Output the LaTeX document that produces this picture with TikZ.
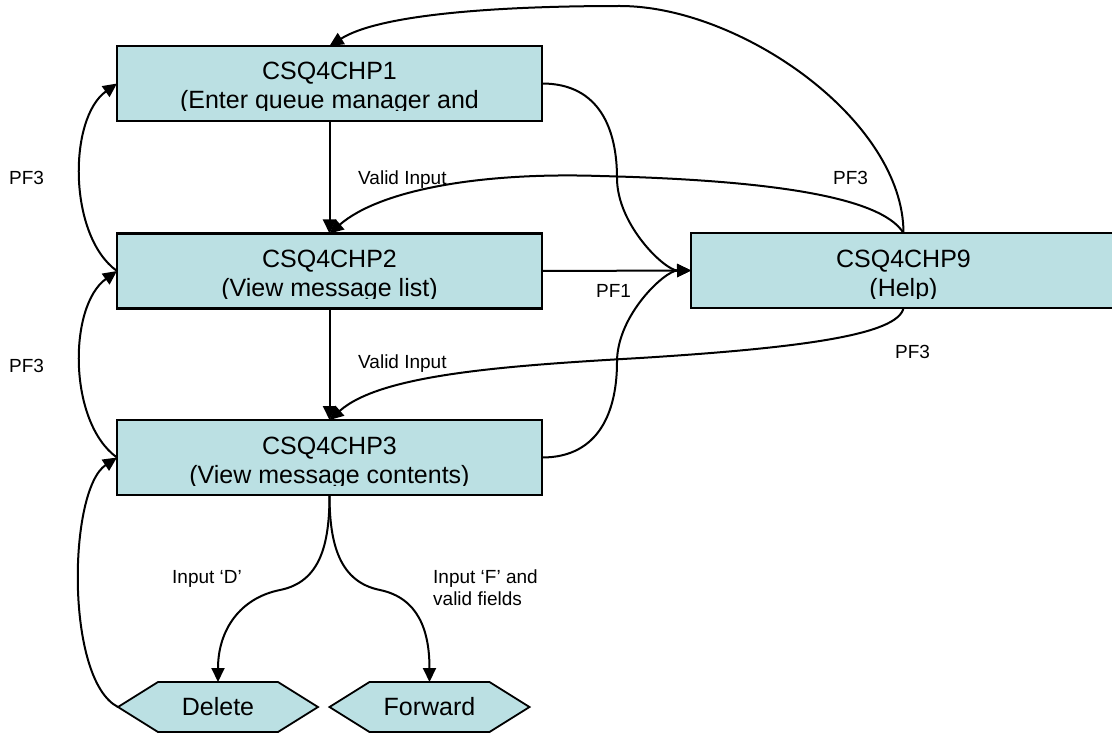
\documentclass[tikz,border=0pt]{standalone}
\usepackage{fontspec}
\setmainfont{Liberation Sans}
\usetikzlibrary{arrows.meta,backgrounds,calc}
\definecolor{boxfill}{RGB}{187,224,227}
\begin{document}
\begin{tikzpicture}[x=1pt,y=-1pt,
  box/.style={draw=black, line width=2.2pt, fill=boxfill, minimum width=425pt, minimum height=75pt, inner sep=0pt, outer sep=0pt},
  boxtext/.style={font=\fontsize{25}{29}\selectfont, align=center, inner sep=0pt, anchor=base},
  hexnode/.style={font=\fontsize{25}{29}\selectfont, minimum width=200pt, minimum height=50pt, inner sep=0pt, outer sep=0pt},
  hexshape/.style={draw=black, line width=1.8pt, fill=boxfill},
  conn/.style={line width=2pt, draw=black},
  arr/.style={conn, -{Triangle[length=14pt,width=13pt]}},
  lbl/.style={font=\fontsize{19}{22}\selectfont, inner sep=0pt, anchor=base west, align=left}
]
\clip (0,0) rectangle (1112,733);

% boxes
\node[box] (b1) at (329.5,83.5) {};
\node[box] (b2) at (329.5,271) {};
\node[box] (b3) at (329.5,457.5) {};
\node[box] (b9) at (903.5,270.5) {};

% box texts (clipped to the text frame); anchor base = baseline of the last line
\begin{scope}
\clip (b1.north west) rectangle ([yshift=10pt]b1.south east);
\node[boxtext] (t1) at ([yshift=-63pt]b1.north) {CSQ4CHP1\\(Enter queue manager and};
\end{scope}
\begin{scope}
\clip (b2.north west) rectangle ([yshift=10pt]b2.south east);
\node[boxtext] (t2) at ([yshift=-63pt]b2.north) {CSQ4CHP2\\(View message list)};
\end{scope}
\begin{scope}
\clip (b3.north west) rectangle ([yshift=10pt]b3.south east);
\node[boxtext] (t3) at ([yshift=-63pt]b3.north) {CSQ4CHP3\\(View message contents)};
\end{scope}
\begin{scope}
\clip (b9.north west) rectangle ([yshift=10pt]b9.south east);
\node[boxtext] (t9) at ([yshift=-63pt]b9.north) {CSQ4CHP9\\(Help)};
\end{scope}

% hexagons
\node[hexnode] (del) at (218,707) {Delete};
\node[hexnode] (fwd) at (429.5,707) {Forward};
\begin{scope}[on background layer]
\foreach \n in {del,fwd}
  \filldraw[hexshape] (\n.west) -- ([xshift=40pt]\n.north west) -- ([xshift=-40pt]\n.north east)
    -- (\n.east) -- ([xshift=-40pt]\n.south east) -- ([xshift=40pt]\n.south west) -- cycle;
\end{scope}

% straight connectors
\draw[arr] (b1.south) -- (b2.north);
\draw[arr] (b2.south) -- (b3.north);
\draw[arr] (b2.east) -- (b9.west);

% curves to help
\draw[arr] (b1.east) .. controls (600,83.5) and (617,130) .. (617,178) .. controls (617,225) and (665,270.5) .. (b9.west);
\draw[arr] (b3.east) .. controls (600,457.5) and (617,410) .. (617,362) .. controls (617,315) and (665,270.5) .. (b9.west);

% curves from help
\draw[arr] (b9.north) .. controls (903.5,120) and (740,6) .. (620,6) .. controls (500,6) and (380,14) .. (b1.north);
\draw[arr] (b9.north) .. controls (880,195) and (760,180) .. (600,176) .. controls (480,172) and (380,190) .. (b2.north);
\draw[arr] (b9.south) .. controls (898,335) and (800,348) .. (640,358) .. controls (500,366) and (380,375) .. (b3.north);

% left return arcs
\draw[arr] (b2.west) .. controls (68,236) and (68,118.5) .. (b1.west);
\draw[arr] (b3.west) .. controls (68,422.5) and (68,306) .. (b2.west);
\draw[arr] (del.west) .. controls (65,680) and (68,490) .. (b3.west);

% S-curves to the hexagons
\draw[arr] (b3.south) .. controls (329.5,545) and (320,582) .. (280,590) .. controls (240,598) and (218,630) .. (del.north);
\draw[arr] (b3.south) .. controls (329.5,545) and (340,582) .. (380,590) .. controls (418,598) and (429.5,630) .. (fwd.north);

% labels
\node[lbl] (l1) at (9,185) {PF3};
\node[lbl] (l2) at (9,372) {PF3};
\node[lbl] (l3) at (358,185) {Valid Input};
\node[lbl] (l4) at (358,368) {Valid Input};
\node[lbl] (l5) at (833,185) {PF3};
\node[lbl] (l6) at (596,297) {PF1};
\node[lbl] (l7) at (895,358) {PF3};
\node[lbl] (l8) at (172,583) {Input ‘D’};
\node[lbl] (l9) at (433,605) {Input ‘F’ and\\valid fields};
\end{tikzpicture}
\end{document}
